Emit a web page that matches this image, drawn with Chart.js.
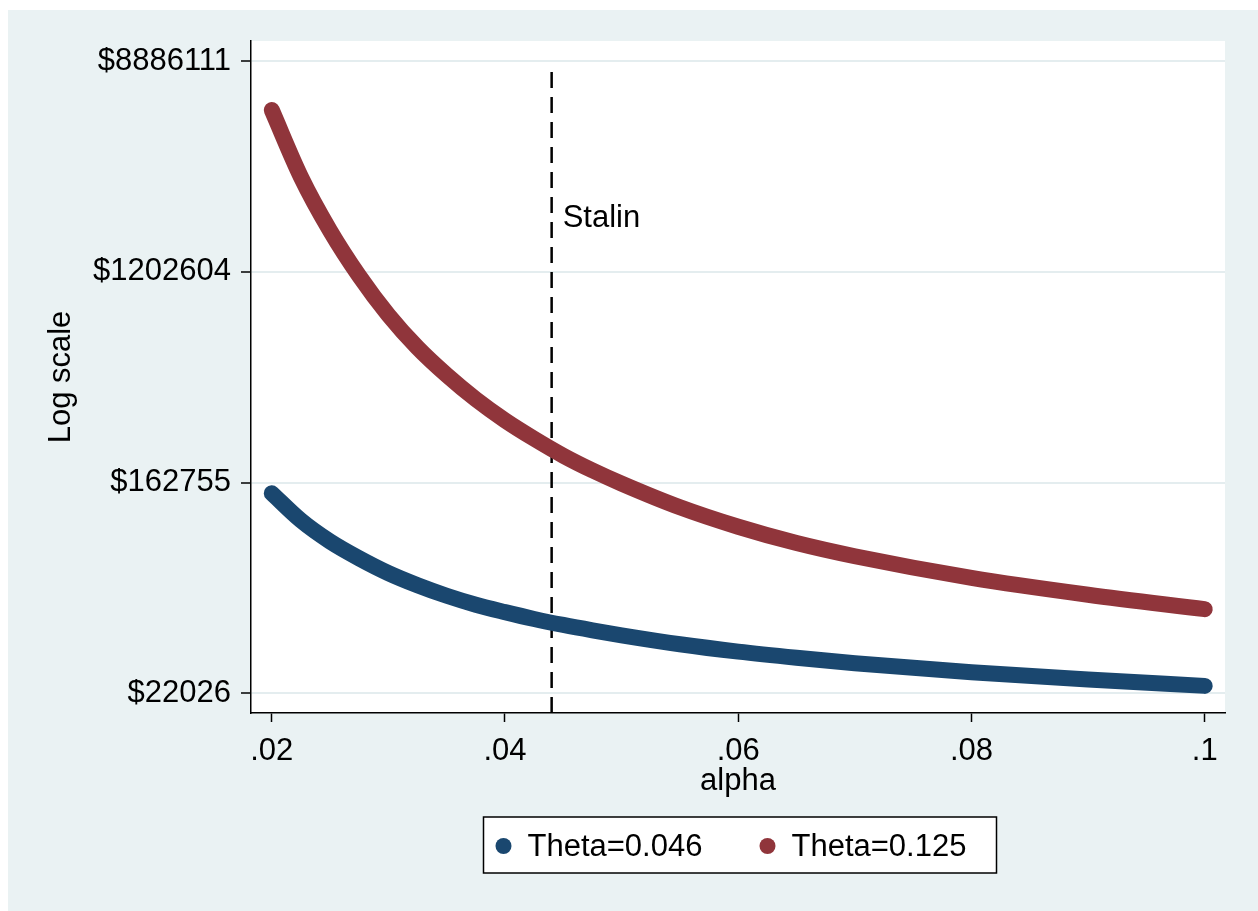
<!DOCTYPE html>
<html>
<head>
<meta charset="utf-8">
<script src="https://cdn.jsdelivr.net/npm/chart.js@4.4.1/dist/chart.umd.min.js"></script>
<style>
body { margin: 0; background: #fff; }
#wrap { position: absolute; left: 8px; top: 10px; width: 1250px; height: 901px; background: #eaf2f3; }
</style>
</head>
<body>
<div id="wrap"><canvas id="myChart" width="1250" height="901"></canvas></div>
<script>
// values (log-scale y)
const alpha = [0.02, 0.0225, 0.025, 0.0275, 0.03, 0.0325, 0.035, 0.0375, 0.04, 0.0425, 0.045, 0.0475, 0.05, 0.055, 0.06, 0.065, 0.07, 0.08, 0.09, 0.1];
const theta046 = [146970, 113550, 92970, 79220, 68880, 61390, 55550, 51020, 47570, 44580, 42110, 40020, 38180, 35070, 32700, 30850, 29290, 26900, 25080, 23620];
const theta125 = [5581500, 2957900, 1776300, 1155500, 798100, 585400, 451400, 358600, 293600, 246500, 210000, 182600, 161100, 128670, 106940, 91590, 80820, 65840, 56110, 48920];
const seriesLabels = ['Theta=0.046', 'Theta=0.125'];

const xTicks = [0.02, 0.04, 0.06, 0.08, 0.1];
const xTickLabels = ['.02', '.04', '.06', '.08', '.1'];
const yTicks = [22026, 162755, 1202604, 8886111];
const yTickLabels = ['$22026', '$162755', '$1202604', '$8886111'];

const stalinAlpha = 0.044;
const stalinRange = [18260, 8300000];

const blue = '#1a476f';
const red = '#90353b';

Chart.defaults.font.family = '"Liberation Sans", Arial, Helvetica, sans-serif';
Chart.defaults.font.size = 31;
Chart.defaults.color = '#000';

function pts(ys) {
	return alpha.map((a, i) => ({ x: a, y: ys[i] }));
}

// white plot region, Stalin label and boxed legend
const extras = {
	id: 'extras',
	beforeDraw(chart) {
		const { ctx, chartArea: a } = chart;
		ctx.save();
		ctx.fillStyle = '#fff';
		ctx.fillRect(a.left, a.top, a.right - a.left, a.bottom - a.top);
		ctx.restore();
	},
	afterDraw(chart) {
		const { ctx, chartArea: a } = chart;
		const xs = chart.scales.x;
		ctx.save();
		ctx.fillStyle = '#000';
		ctx.font = '31px "Liberation Sans", Arial, sans-serif';
		ctx.textBaseline = 'middle';
		ctx.textAlign = 'left';
		ctx.fillText('Stalin', xs.getPixelForValue(stalinAlpha) + 11, a.top + 177);

		// legend
		const w = 513, h = 56;
		const left = (a.left + a.right) / 2 - w / 2 + 2;
		const top = a.bottom + 104;
		ctx.fillStyle = '#fff';
		ctx.fillRect(left, top, w, h);
		ctx.strokeStyle = '#000';
		ctx.lineWidth = 1.5;
		ctx.strokeRect(left, top, w, h);
		[blue, red].forEach((c, i) => {
			const ox = left + i * 264;
			ctx.fillStyle = c;
			ctx.beginPath();
			ctx.arc(ox + 20, top + 29, 8, 0, Math.PI * 2);
			ctx.fill();
			ctx.fillStyle = '#000';
			ctx.fillText(seriesLabels[i], ox + 44, top + 30);
		});
		ctx.restore();
	}
};

var ctx = document.getElementById('myChart').getContext('2d');
var myChart = new Chart(ctx, {
	type: 'line',
	data: {
		datasets: [{
			label: seriesLabels[0],
			data: pts(theta046),
			borderColor: blue,
			borderWidth: 16,
			borderCapStyle: 'round',
			borderJoinStyle: 'round',
			cubicInterpolationMode: 'monotone',
			pointRadius: 0,
			fill: false
		}, {
			label: seriesLabels[1],
			data: pts(theta125),
			borderColor: red,
			borderWidth: 16,
			borderCapStyle: 'round',
			borderJoinStyle: 'round',
			cubicInterpolationMode: 'monotone',
			pointRadius: 0,
			fill: false
		}, {
			label: 'Stalin',
			data: stalinRange.map(v => ({ x: stalinAlpha, y: v })),
			borderColor: '#000',
			borderWidth: 2.5,
			borderDash: [16, 9],
			pointRadius: 0,
			fill: false
		}]
	},
	options: {
		responsive: false,
		animation: false,
		layout: { padding: { left: 0, top: 31, right: 33, bottom: 108 } },
		plugins: {
			legend: { display: false },
			tooltip: { enabled: false }
		},
		scales: {
			x: {
				type: 'linear',
				min: 0.01822,
				max: 0.10174,
				afterBuildTicks: s => { s.ticks = xTicks.map(v => ({ value: v })); },
				afterFit: s => { s.height = 90; },
				ticks: {
					callback: (v, i) => xTickLabels[i],
					padding: 11,
					maxRotation: 0
				},
				grid: {
					drawOnChartArea: false,
					tickLength: 9,
					tickColor: '#000',
					tickWidth: 1.5
				},
				border: { display: true, color: '#000', width: 1.5 },
				title: { display: true, text: 'alpha', padding: { top: 0, bottom: 3 } }
			},
			y: {
				type: 'logarithmic',
				min: 18260,
				max: 10750000,
				afterBuildTicks: s => { s.ticks = yTicks.map(v => ({ value: v })); },
				afterFit: s => { s.width = 243; },
				ticks: {
					callback: (v, i) => yTickLabels[i],
					padding: 10
				},
				grid: {
					color: '#e4edef',
					lineWidth: 2,
					tickLength: 10,
					tickColor: '#000',
					tickWidth: 1.5
				},
				border: { display: true, color: '#000', width: 1.5 },
				title: { display: true, text: 'Log scale', padding: { top: 35, bottom: 0 } }
			}
		}
	},
	plugins: [extras]
});
</script>
</body>
</html>
